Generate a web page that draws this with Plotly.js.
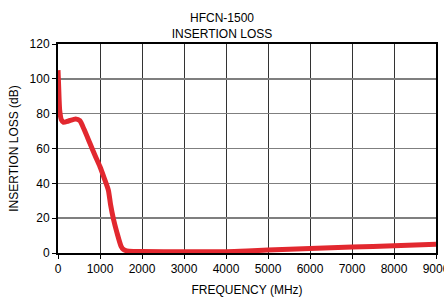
<!DOCTYPE html>
<html>
<head>
<meta charset="utf-8">
<script src="https://cdn.plot.ly/plotly-3.0.1.min.js"></script>
<style>html,body{margin:0;padding:0;background:#fff;}#chart{width:444px;height:297px;}</style>
</head>
<body>
<div id="chart"></div>
<script>
const freqMHz = [0, 15, 40, 80, 130, 250, 420, 520, 620, 760, 900, 1000, 1100, 1200, 1250, 1320, 1400, 1500, 1560, 1640, 1800, 2000, 3000, 4000, 4500, 5000, 6000, 7000, 8000, 9000];
const lossDb  = [105, 96, 82, 76.5, 75, 75.8, 77, 76, 71, 63, 55, 49.5, 43, 36, 28, 19.5, 12, 4, 2, 1.2, 0.9, 0.8, 0.7, 0.7, 1.1, 1.7, 2.6, 3.4, 4.2, 5.0];
const xTicks = [0, 1000, 2000, 3000, 4000, 5000, 6000, 7000, 8000, 9000];
const yTicks = [0, 20, 40, 60, 80, 100, 120];

const font = {family: 'Liberation Sans, Arial, sans-serif', size: 12, color: '#000'};

Plotly.newPlot('chart', [{
  x: freqMHz, y: lossDb, type: 'scatter', mode: 'lines',
  line: {color: '#e2282f', width: 5, shape: 'spline', smoothing: 0.6},
  hoverinfo: 'skip'
}], {
  width: 444, height: 297,
  margin: {l: 58, r: 8, t: 44, b: 44},
  paper_bgcolor: '#fff', plot_bgcolor: '#fff',
  showlegend: false,
  font: font,
  title: {text: 'HFCN-1500<br>INSERTION LOSS', font: font, x: 0.5, xanchor: 'center', y: 0.925, yanchor: 'middle'},
  xaxis: {
    range: [0, 9000], tickvals: xTicks, ticktext: xTicks.map(String),
    showgrid: true, gridcolor: '#333', gridwidth: 1,
    showline: true, linecolor: '#000', linewidth: 2, mirror: true,
    ticks: 'outside', ticklen: 4, tickcolor: '#000', zeroline: false,
    ticklabeloverflow: 'allow',
    title: {text: 'FREQUENCY (MHz)', font: font, standoff: 10},
    tickfont: font
  },
  yaxis: {
    range: [0, 120], tickvals: yTicks, ticktext: yTicks.map(String),
    showgrid: true, gridcolor: '#7f7f7f', gridwidth: 1.5,
    showline: true, linecolor: '#000', linewidth: 2, mirror: true,
    ticks: 'outside', ticklen: 4, tickcolor: '#000', zeroline: false,
    title: {text: 'INSERTION LOSS (dB)', font: font, standoff: 8},
    tickfont: font
  }
}, {displayModeBar: false, staticPlot: true});
</script>
</body>
</html>
